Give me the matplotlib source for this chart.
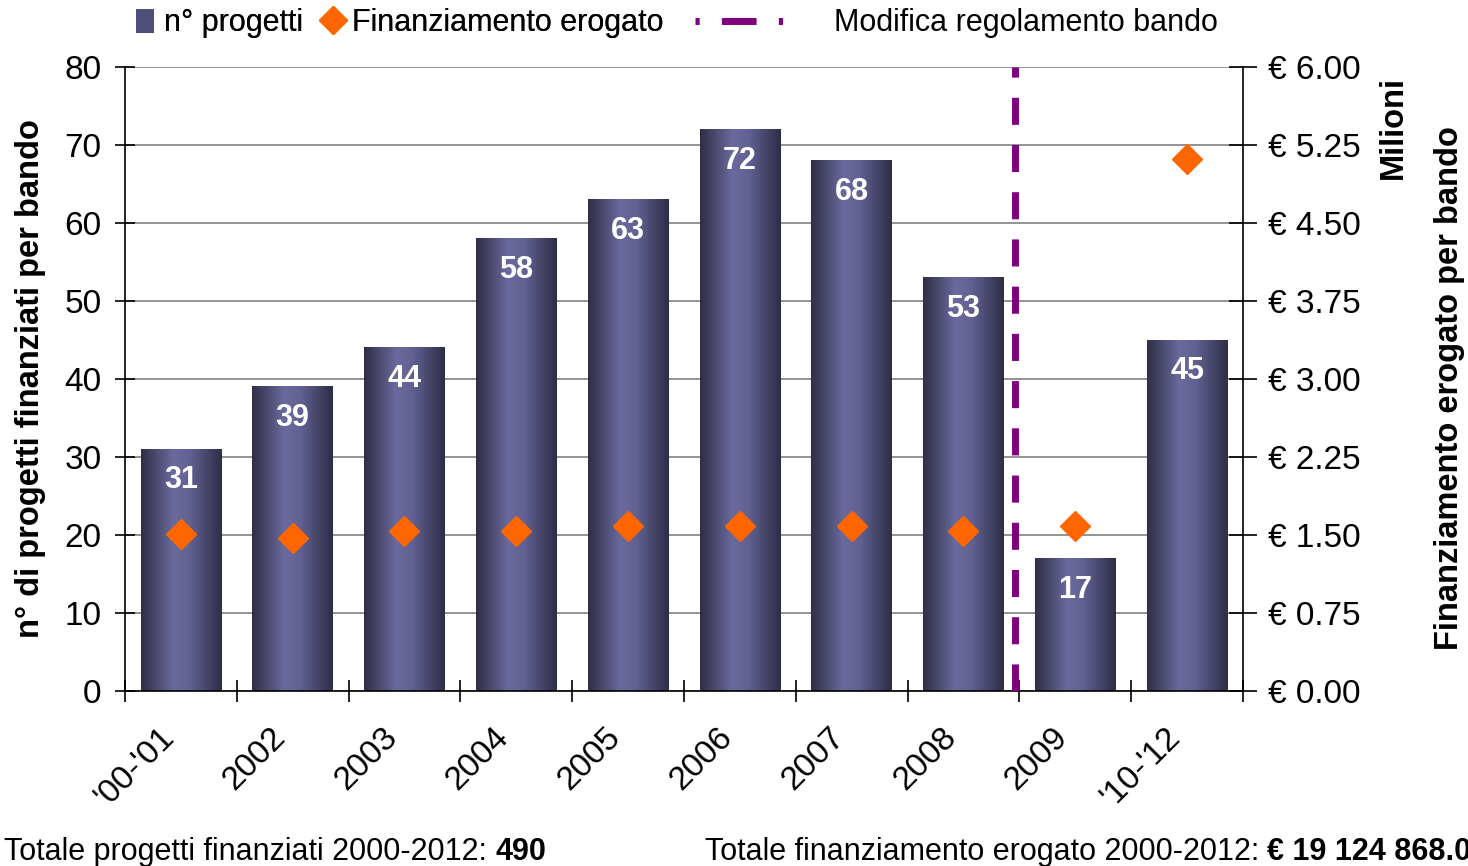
import numpy as np
import matplotlib.pyplot as plt
from matplotlib.colors import LinearSegmentedColormap
from matplotlib.lines import Line2D
from matplotlib.patches import Patch
from matplotlib.ticker import FuncFormatter
from matplotlib.transforms import ScaledTranslation

plt.rcParams['font.family'] = ['Liberation Sans', 'DejaVu Sans']

# dati
anni = ["'00-'01", "2002", "2003", "2004", "2005", "2006", "2007", "2008", "2009", "'10-'12"]
progetti = [31, 39, 44, 58, 63, 72, 68, 53, 17, 45]
finanziamento = [1.51, 1.47, 1.54, 1.54, 1.59, 1.59, 1.59, 1.54, 1.59, 5.12]  # milioni di euro
modifica_bando = 7.46  # posizione della linea tratteggiata (tra 2008 e 2009)
tot_progetti = "490"
tot_finanziamento = "€ 19 124 868.00"

viola = '#800080'
arancio = '#ff6600'
sfumatura = LinearSegmentedColormap.from_list(
    'barre', [(0, '#2e2e46'), (0.4, '#6a6a9e'), (0.6, '#616193'), (1, '#2e2e46')])

fig = plt.figure(figsize=(14.68, 8.66), dpi=100)
ax = fig.add_axes([0.0851, 0.2021, 0.7616, 0.7205])
ax2 = ax.twinx()

x = np.arange(len(anni))
larghezza = 0.72
grad = np.linspace(0, 1, 256).reshape(1, -1)
for xi, v in zip(x, progetti):
    ax.imshow(grad, cmap=sfumatura, extent=[xi - larghezza / 2, xi + larghezza / 2, 0, v],
              aspect='auto', zorder=2, interpolation='bilinear')
    ax.text(xi, v - 4, str(v), ha='center', va='center', color='white',
            fontsize=22, fontweight='bold', zorder=3)

ax.axvline(modifica_bando, color=viola, lw=5, dashes=(3.9, 2.9), zorder=4)

ax.set_xlim(-0.5, len(anni) - 0.5)
ax.set_ylim(0, 80)
ax.set_yticks(range(0, 81, 10))
ax.set_axisbelow(True)
ax.yaxis.grid(True, color='#808080', lw=1.2)

# etichette degli anni, ruotate e spostate un po' a sinistra
ax.set_xticks(x)
ax.set_xticklabels([])
spost = ax.get_xaxis_transform() + ScaledTranslation(-0.12, -0.42, fig.dpi_scale_trans)
for xi, lab in zip(x, anni):
    ax.text(xi, 0, lab, transform=spost, rotation=45, ha='right', va='center',
            rotation_mode='anchor', fontsize=24)
ax.set_xticks(np.arange(-0.5, len(anni)), minor=True)
ax.tick_params(axis='x', which='major', length=0)
ax.tick_params(axis='x', which='minor', length=16, direction='inout', width=1.2)
ax.tick_params(axis='y', labelsize=24, length=14, direction='inout', width=1.2, pad=10)

for s in ['top', 'right']:
    ax.spines[s].set_visible(False)
for s in ['top', 'left', 'bottom']:
    ax2.spines[s].set_visible(False)
ax.spines['left'].set_linewidth(1.2)
ax.spines['bottom'].set_linewidth(1.2)
ax2.spines['right'].set_linewidth(1.2)

ax2.plot(x, finanziamento, linestyle='none', marker='D', color=arancio, markersize=15, zorder=5)
ax2.set_ylim(0, 6)
ax2.set_yticks(np.arange(0, 6.01, 0.75))
ax2.yaxis.set_major_formatter(FuncFormatter(lambda v, p: '€ %.2f' % v))
ax2.tick_params(axis='y', labelsize=24, length=20, direction='inout', width=1.2, pad=8)

ax.set_ylabel('n° di progetti finanziati per bando', fontsize=23.5, fontweight='bold')
ax.yaxis.set_label_coords(-0.071, 0.5)
fig.text(0.9877, 0.552, 'Finanziamento erogato per bando', rotation=90, ha='center', va='center',
         fontsize=23.5, fontweight='bold')
fig.text(0.949, 0.853, 'Milioni', rotation=90, ha='center', va='center',
         fontsize=23.5, fontweight='bold')

maniglie = [
    Patch(facecolor='#4f4f7c', edgecolor='none'),
    Line2D([], [], linestyle='none', marker='D', color=arancio, markersize=14),
]
leg1 = fig.legend(maniglie, ['n° progetti', 'Finanziamento erogato'],
                  loc='upper left', bbox_to_anchor=(0.074, 1.022), ncol=2, frameon=False,
                  fontsize=22, handlelength=0.6, handletextpad=0.3, columnspacing=0.7,
                  handleheight=0.8)
fig.add_artist(leg1)
fig.legend([Line2D([], [], color=viola, lw=5, dashes=(0.6, 3.2, 5.0, 3.2))],
           ['Modifica regolamento bando'],
           loc='upper left', bbox_to_anchor=(0.455, 1.022), frameon=False,
           fontsize=22, handlelength=3.5, handletextpad=1.05)

t1 = fig.text(0.003, 0.007, 'Totale progetti finanziati 2000-2012: ', fontsize=22)
ax.annotate(tot_progetti, xy=(1, 0), xycoords=t1, fontsize=22, fontweight='bold',
            va='bottom', annotation_clip=False)
t2 = fig.text(0.48, 0.007, 'Totale finanziamento erogato 2000-2012: ', fontsize=22)
ax.annotate(tot_finanziamento, xy=(1, 0), xycoords=t2, fontsize=22, fontweight='bold',
            va='bottom', annotation_clip=False)

fig.savefig('out.png', dpi=100)
